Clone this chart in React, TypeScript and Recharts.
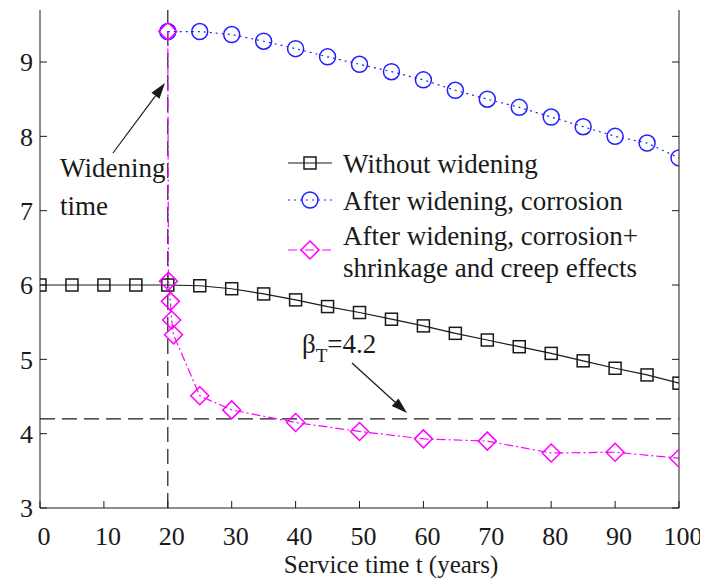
import React from "react";
import { LineChart, Line, XAxis, YAxis, ReferenceLine } from "recharts";

// service time (years) and reliability index values
const years = [0, 5, 10, 15, 20, 25, 30, 35, 40, 45, 50, 55, 60, 65, 70, 75, 80, 85, 90, 95, 100];
const withoutWidening = [6.0, 6.0, 6.0, 6.0, 6.0, 5.99, 5.95, 5.88, 5.8, 5.71, 5.63, 5.54, 5.45, 5.35, 5.26, 5.17, 5.08, 4.98, 4.88, 4.79, 4.68];

const widenedYears = [20, 25, 30, 35, 40, 45, 50, 55, 60, 65, 70, 75, 80, 85, 90, 95, 100];
const corrosion = [9.41, 9.41, 9.37, 9.28, 9.18, 9.07, 8.97, 8.87, 8.76, 8.62, 8.5, 8.39, 8.26, 8.13, 8.0, 7.91, 7.71];

const creepYears = [20, 20.1, 20.4, 20.6, 20.9, 25, 30, 40, 50, 60, 70, 80, 90, 100];
const corrosionCreep = [9.41, 6.05, 5.78, 5.53, 5.33, 4.51, 4.32, 4.15, 4.03, 3.93, 3.9, 3.74, 3.75, 3.67];

const xTicks = [0, 10, 20, 30, 40, 50, 60, 70, 80, 90, 100];
const yTicks = [3, 4, 5, 6, 7, 8, 9];
const targetBeta = 4.2;
const widenTime = 20;

const FONT = "Liberation Serif, DejaVu Serif, Times New Roman, serif";
const INK = "#1a1a1a";
const BLUE = "#1f1fff";
const MAGENTA = "#ff00ff";

const W = 700;
const H = 571;

const toRows = (xs: number[], ys: number[]) => xs.map((t, i) => ({ t, beta: ys[i] }));

const square = (cx: number, cy: number, key?: any) => (
  <rect key={key} x={cx - 6} y={cy - 6} width={12} height={12} fill="none" stroke={INK} strokeWidth={1.5} />
);
const circle = (cx: number, cy: number, key?: any) => (
  <circle key={key} cx={cx} cy={cy} r={8} fill="none" stroke={BLUE} strokeWidth={1.5} />
);
const diamond = (cx: number, cy: number, key?: any) => (
  <polygon
    key={key}
    points={`${cx},${cy - 9} ${cx + 9},${cy} ${cx},${cy + 9} ${cx - 9},${cy}`}
    fill="none"
    stroke={MAGENTA}
    strokeWidth={1.5}
  />
);

const series = [
  { name: "Without widening", rows: toRows(years, withoutWidening), color: INK, dash: undefined, marker: square },
  { name: "After widening, corrosion", rows: toRows(widenedYears, corrosion), color: BLUE, dash: "2 4", marker: circle },
  {
    name: "After widening, corrosion+|shrinkage and creep effects",
    rows: toRows(creepYears, corrosionCreep),
    color: MAGENTA,
    dash: "9 3 2 3",
    marker: diamond,
  },
];

const txt = { fontFamily: FONT, fill: INK };

const LeftTick = (props: any) => {
  const { x, y, payload } = props;
  return (
    <g>
      <line x1={x} y1={y} x2={x + 7} y2={y} stroke={INK} />
      <text x={x - 7} y={y} dy="0.36em" textAnchor="end" fontSize={26} style={txt}>
        {payload.value}
      </text>
    </g>
  );
};

const RightTick = (props: any) => {
  const { x, y } = props;
  return <line x1={x} y1={y} x2={x - 7} y2={y} stroke={INK} />;
};

const BottomTick = (props: any) => {
  const { x, y, payload } = props;
  return (
    <g>
      <line x1={x} y1={y} x2={x} y2={y - 7} stroke={INK} />
      <text x={x + 4} y={y + 37} textAnchor="middle" fontSize={26} style={txt}>
        {payload.value}
      </text>
    </g>
  );
};

const Arrow = ({ x1, y1, x2, y2 }: { x1: number; y1: number; x2: number; y2: number }) => {
  const a = Math.atan2(y2 - y1, x2 - x1);
  const len = 16;
  const half = 5;
  const bx = x2 - len * Math.cos(a);
  const by = y2 - len * Math.sin(a);
  const px = -Math.sin(a) * half;
  const py = Math.cos(a) * half;
  return (
    <g>
      <line x1={x1} y1={y1} x2={bx} y2={by} stroke={INK} strokeWidth={1.2} />
      <polygon points={`${x2},${y2} ${bx + px},${by + py} ${bx - px},${by - py}`} fill={INK} />
    </g>
  );
};

const Overlay = () => {
  const rowY = [155, 192, 242];
  const textY = [[165], [202], [237, 269]];
  return (
    <svg width={W} height={H} style={{ position: "absolute", left: 0, top: 0, pointerEvents: "none" }}>
      <text x={52} y={169} fontSize={27} style={txt}>Widening</text>
      <text x={52} y={207} fontSize={27} style={txt}>time</text>
      <text x={294} y={345} fontSize={27} style={txt}>
        β<tspan fontSize={19} dy={9}>T</tspan>
        <tspan dy={-9}>=4.2</tspan>
      </text>
      <Arrow x1={105} y1={145} x2={157} y2={75} />
      <Arrow x1={344} y1={355} x2={399} y2={405} />
      {series.map((s, i) => (
        <g key={s.name}>
          <line x1={280} y1={rowY[i]} x2={324} y2={rowY[i]} stroke={s.color} strokeWidth={1.2} strokeDasharray={s.dash} />
          {s.marker(302, rowY[i])}
          {s.name.split("|").map((part, j) => (
            <text key={j} x={335} y={textY[i][j]} fontSize={27} style={txt}>
              {part}
            </text>
          ))}
        </g>
      ))}
      <text x={383} y={565} textAnchor="middle" fontSize={25} style={txt}>
        Service time t (years)
      </text>
    </svg>
  );
};

export default function App() {
  return (
    <div style={{ position: "relative", width: W, height: H, background: "#fff" }}>
      <LineChart width={W} height={H} margin={{ top: 2, right: 0, bottom: 0, left: 0 }}>
        <XAxis
          dataKey="t"
          type="number"
          domain={[0, 100]}
          ticks={xTicks}
          allowDataOverflow
          height={71}
          tickSize={0}
          tickMargin={0}
          tickLine={false}
          axisLine={{ stroke: INK }}
          tick={<BottomTick />}
        />
        <YAxis
          yAxisId="left"
          type="number"
          domain={[3, 9.7]}
          ticks={yTicks}
          allowDataOverflow
          width={32}
          tickSize={0}
          tickMargin={0}
          tickLine={false}
          axisLine={{ stroke: INK }}
          tick={<LeftTick />}
        />
        <YAxis
          yAxisId="right"
          orientation="right"
          type="number"
          domain={[3, 9.7]}
          ticks={yTicks}
          allowDataOverflow
          width={29}
          tickSize={0}
          tickMargin={0}
          tickLine={false}
          axisLine={{ stroke: INK }}
          tick={<RightTick />}
        />
        <ReferenceLine yAxisId="left" x={widenTime} stroke={INK} strokeWidth={1.2} strokeDasharray="15 7" />
        <ReferenceLine yAxisId="left" y={targetBeta} stroke={INK} strokeWidth={1.2} strokeDasharray="15 7" />
        {series.map((s) => (
          <Line
            key={s.name}
            yAxisId="left"
            data={s.rows}
            dataKey="beta"
            type="linear"
            stroke={s.color}
            strokeWidth={1.2}
            strokeDasharray={s.dash}
            dot={(p: any) => s.marker(p.cx, p.cy, `${s.name}-${p.index}`)}
            activeDot={false}
            isAnimationActive={false}
          />
        ))}
      </LineChart>
      <Overlay />
    </div>
  );
}
